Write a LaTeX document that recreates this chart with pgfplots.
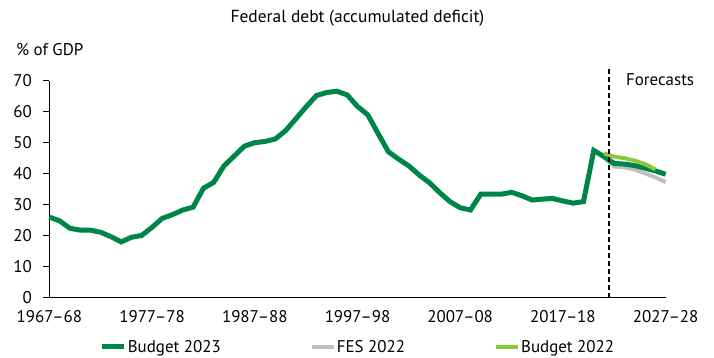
\documentclass[border=0pt]{standalone}
\usepackage{fontspec}
\setmainfont{PT Sans}
\usepackage{pgfplots}
\pgfplotsset{compat=1.18}
\definecolor{dkgreen}{RGB}{0,133,72}
\definecolor{ltgreen}{RGB}{141,198,63}
\definecolor{fesgray}{RGB}{192,192,192}
\begin{document}
\begin{tikzpicture}
\useasboundingbox (-49.3bp,-60.3bp) rectangle (664.7bp,297.7bp);
\begin{axis}[
 width=616.4bp, height=217bp, scale only axis,
 xmin=1967, xmax=2027, ymin=0, ymax=70,
 axis x line*=bottom, axis y line*=left,
 axis line style={line width=1.1bp, black},
 xtick={1967,1977,...,2027},
 xticklabels={1967--68,1977--78,1987--88,1997--98,2007--08,2017--18,2027--28},
 ytick={0,10,...,70},
 tick align=outside,
 major tick length=6bp,
 xtick style={draw=none},
 ytick style={line width=1.1bp, black},
 tick label style={font=\fontsize{17}{20}\selectfont},
 xticklabel style={yshift=-3bp},
 yticklabel style={xshift=-8bp},
 /pgf/number format/assume math mode=true,
 clip=false,
 legend columns=3,
 legend style={at={(0.5,-0.227)}, anchor=center, draw=none, fill=none,
   font=\fontsize{17}{20}\selectfont,
   /tikz/every even column/.append style={column sep=88bp},
   nodes={inner xsep=1bp}},
 legend image code/.code={\draw[#1] (0bp,0bp) -- (22bp,0bp);},
]
\addplot[fesgray, line width=4bp, forget plot] coordinates {
(2021,45.3) (2022,42.3) (2023,42.1) (2024,41.3) (2025,40.1) (2026,38.8) (2027,37.3)};
\addplot[dkgreen, line width=5bp, forget plot] coordinates {
(1967,26.0) (1968,24.8) (1969,22.4) (1970,21.8) (1971,21.8) (1972,21.1)
(1973,19.7) (1974,18.0) (1975,19.5) (1976,20.1) (1977,22.7) (1978,25.6)
(1979,26.8) (1980,28.3) (1981,29.2) (1982,35.3) (1983,37.2) (1984,42.5)
(1985,45.7) (1986,48.9) (1987,50.0) (1988,50.4) (1989,51.2) (1990,53.9)
(1991,57.7) (1992,61.6) (1993,65.2) (1994,66.2) (1995,66.6) (1996,65.4)
(1997,61.7) (1998,59.0) (1999,53.0) (2000,47.1) (2001,44.7) (2002,42.5)
(2003,39.6) (2004,37.1) (2005,33.9) (2006,31.0) (2007,29.0) (2008,28.3)
(2009,33.4) (2010,33.4) (2011,33.4) (2012,34.0) (2013,32.9) (2014,31.5)
(2015,31.8) (2016,32.0) (2017,31.2) (2018,30.5) (2019,31.0) (2020,47.5)
(2021,45.5) (2022,43.3) (2023,43.1) (2024,42.6) (2025,41.8) (2026,40.9)
(2027,39.8)};
\addplot[ltgreen, line width=4bp, forget plot] coordinates {
(2021,46.5) (2022,45.5) (2023,45.0) (2024,44.2) (2025,43.1) (2026,41.4)};
\addplot[black, line width=1.8bp, dash pattern=on 5bp off 3bp, forget plot] coordinates {(2021.5,0) (2021.5,74.5)};
\addlegendimage{dkgreen, line width=5bp}
\addlegendimage{fesgray, line width=4bp}
\addlegendimage{ltgreen, line width=4bp}
\legend{Budget 2023, FES 2022, Budget 2022}
\node[anchor=west, font=\fontsize{17}{20}\selectfont] at (axis cs:2022.8,70.2) {Forecasts};
\node[anchor=center, font=\fontsize{17.5}{20}\selectfont] at (rel axis cs:0.5,1) [yshift=62.7bp] {Federal debt (accumulated deficit)};
\node[anchor=west, font=\fontsize{17}{20}\selectfont] at (rel axis cs:0,1) [xshift=-36.8bp, yshift=30.7bp] {\% of GDP};
\end{axis}
\end{tikzpicture}
\end{document}
